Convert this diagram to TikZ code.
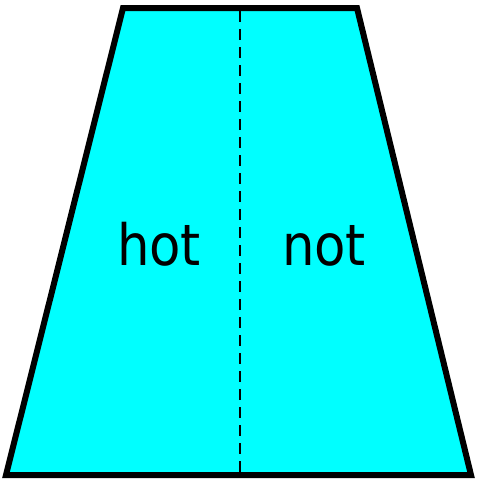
\documentclass[tikz,border=0pt]{standalone}
\usepackage{fontspec}
\newfontfamily\lbl{DejaVu Sans Condensed}
\begin{document}
\begin{tikzpicture}[x=1pt,y=-1pt,
  trapbox/.style={draw=black,line width=6pt,fill={rgb,255:red,0;green,255;blue,255},line join=miter},
  divider/.style={draw=black,line width=2.5pt,dash pattern=on 11pt off 7pt},
  lab/.style={font=\lbl\fontsize{57}{57}\selectfont,anchor=base,inner sep=0pt}]
\useasboundingbox (0,0) rectangle (477,479);
\coordinate (tl) at (123,8);
\coordinate (tr) at (357,8);
\coordinate (br) at (471,475);
\coordinate (bl) at (6,475);
\coordinate (dt) at (240,11);
\coordinate (db) at (240,472);
\filldraw[trapbox] (tl) -- (tr) -- (br) -- (bl) -- cycle;
\draw[divider] (dt) -- (db);
\node[lab] (hot) at (159,265) {hot};
\node[lab] (not) at (324,265) {not};
\end{tikzpicture}
\end{document}
